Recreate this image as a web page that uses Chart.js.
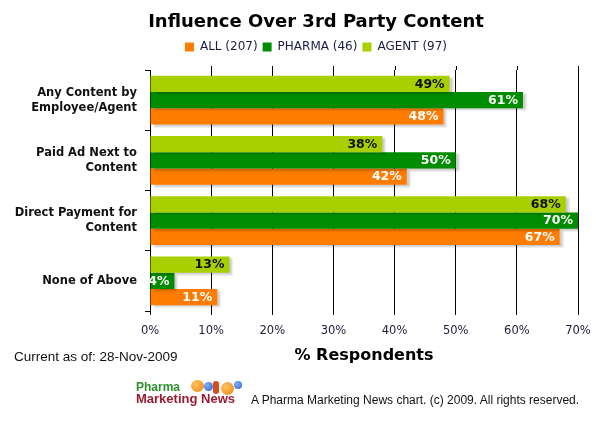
<!DOCTYPE html>
<html>
<head>
<meta charset="utf-8">
<script src="https://cdn.jsdelivr.net/npm/chart.js@4/dist/chart.umd.min.js"></script>
<style>
  html, body { margin: 0; padding: 0; background: #fff; }
  #wrap { position: relative; width: 609px; height: 425px; overflow: hidden; }
  #c { position: absolute; left: 0; top: 0; }
  .txt { position: absolute; font-family: "Liberation Sans", Arial, sans-serif; color: #111; white-space: nowrap; }
  #asof { left: 14px; top: 349px; font-size: 13.5px; }
  #copy { left: 251px; top: 393px; font-size: 12px; }
  #logo { position: absolute; left: 135px; top: 380px; width: 110px; height: 30px; }
  #logo .l1 { position: absolute; left: 1px; top: 1px; font: bold 12px "Liberation Sans", Arial, sans-serif; color: #2f8f2f; line-height: 12px; }
  #logo .l2 { position: absolute; left: 1px; top: 12px; font: bold 13px "Liberation Sans", Arial, sans-serif; color: #9b1b30; line-height: 13px; }
  .ball { position: absolute; border-radius: 50%; }
</style>
</head>
<body>
<div id="wrap">
  <canvas id="c" width="609" height="425"></canvas>
  <div class="txt" id="asof">Current as of: 28-Nov-2009</div>
  <div id="logo">
    <div class="ball" style="left:56px;top:0px;width:13px;height:12px;background:radial-gradient(circle at 35% 35%,#ffc060,#e88a10);"></div>
    <div class="ball" style="left:69px;top:2px;width:9px;height:9px;background:radial-gradient(circle at 35% 35%,#7fb0ff,#2a5fc8);"></div>
    <div class="ball" style="left:78px;top:1px;width:6px;height:13px;background:#d84a20;border-radius:3px;"></div>
    <div class="ball" style="left:86px;top:2px;width:13px;height:13px;background:radial-gradient(circle at 35% 35%,#ffc060,#e88a10);"></div>
    <div class="ball" style="left:99px;top:1px;width:8px;height:8px;background:radial-gradient(circle at 35% 35%,#7fb0ff,#2a5fc8);"></div>
    <div class="l1">Pharma</div>
    <div class="l2">Marketing News</div>
  </div>
  <div class="txt" id="copy">A Pharma Marketing News chart. (c) 2009. All rights reserved.</div>
</div>
<script>
// ---- data ----
const categories = [
  ['Any Content by', 'Employee/Agent'],
  ['Paid Ad Next to', 'Content'],
  ['Direct Payment for', 'Content'],
  'None of Above'
];
const agentValues  = [49, 38, 68, 13];
const pharmaValues = [61, 50, 70, 4];
const allValues    = [48, 42, 67, 11];
const seriesLabels = ['AGENT (97)', 'PHARMA (46)', 'ALL (207)'];
const xTickValues  = [0, 10, 20, 30, 40, 50, 60, 70];

const colAgent = '#a8d000', colPharma = '#008c00', colAll = '#ff7c00';

const barDeco = {
  id: 'barDeco',
  afterLayout(chart) {
    // let the category labels extend to the left edge without being clipped
    chart.scales.y.left = 0;
  },
  beforeDatasetsDraw(chart) {
    const ctx = chart.ctx, xs = chart.scales.x, top = chart.chartArea.top;
    ctx.save();
    ctx.strokeStyle = '#000';
    ctx.lineWidth = 1;
    xs.ticks.forEach((t, i) => {
      if (i === 0) return;
      const px = Math.round(xs.getPixelForValue(t.value)) + 0.5;
      ctx.beginPath(); ctx.moveTo(px, top - 4); ctx.lineTo(px, top); ctx.stroke();
    });
    ctx.restore();
    ctx.save();
    ctx.shadowColor = 'rgba(0,0,0,0.2)';
    ctx.shadowOffsetX = 3;
    ctx.shadowOffsetY = 2;
    ctx.shadowBlur = 2;
  },
  afterDatasetsDraw(chart) {
    const ctx = chart.ctx;
    ctx.restore();
    ctx.save();
    ctx.font = 'bold 12.5px "DejaVu Sans", Verdana, sans-serif';
    ctx.textAlign = 'right';
    ctx.textBaseline = 'middle';
    chart.data.datasets.forEach((ds, di) => {
      const meta = chart.getDatasetMeta(di);
      ctx.fillStyle = di === 0 ? '#111' : '#fff';
      meta.data.forEach((el, i) => {
        ctx.fillText(ds.data[i] + '%', el.x - 5, el.y + 0.5);
      });
    });
    ctx.restore();
  }
};

new Chart(document.getElementById('c'), {
  type: 'bar',
  data: {
    labels: categories,
    datasets: [
      { label: seriesLabels[0], data: agentValues,  backgroundColor: colAgent,  borderWidth: 0 },
      { label: seriesLabels[1], data: pharmaValues, backgroundColor: colPharma, borderWidth: 0 },
      { label: seriesLabels[2], data: allValues,    backgroundColor: colAll,    borderWidth: 0 }
    ]
  },
  options: {
    indexAxis: 'y',
    responsive: false,
    animation: false,
    devicePixelRatio: 1,
    categoryPercentage: 0.81,
    barPercentage: 1.0,
    layout: { padding: { left: 54, right: 31, top: 0, bottom: 54 } },
    plugins: {
      tooltip: { enabled: false },
      title: {
        display: true,
        text: 'Influence Over 3rd Party Content',
        color: '#000',
        font: { family: '"DejaVu Sans", Verdana, sans-serif', size: 18, weight: 'bold', lineHeight: 1.2 },
        padding: { top: 12, bottom: 2.4 }
      },
      subtitle: {
        display: true,
        text: ' ',
        weight: 500,
        font: { size: 7, lineHeight: 1 },
        padding: 0
      },
      legend: {
        display: true,
        position: 'top',
        reverse: true,
        labels: {
          boxWidth: 9,
          boxHeight: 9,
          padding: 5,
          color: '#1c1c44',
          font: { family: '"DejaVu Sans", Verdana, sans-serif', size: 12 }
        }
      }
    },
    scales: {
      x: {
        type: 'linear',
        min: 0,
        max: 70,
        afterBuildTicks(scale) { scale.ticks = xTickValues.map(v => ({ value: v })); },
        afterFit(scale) { scale.height = 60; },
        border: { display: false },
        grid: { color: '#000', lineWidth: 1, tickLength: 4, drawTicks: true },
        ticks: {
          padding: 9,
          color: '#1c1c3c',
          font: { family: '"DejaVu Sans", Verdana, sans-serif', size: 11.5 },
          callback: v => v + '%'
        },
        title: {
          display: true,
          text: '% Respondents',
          color: '#000',
          font: { family: '"DejaVu Sans", Verdana, sans-serif', size: 16, weight: 'bold', lineHeight: 1.2 },
          padding: { top: 0, bottom: 5.4 }
        }
      },
      y: {
        afterFit(scale) { scale.width = 96; },
        border: { display: true, color: '#000', width: 1 },
        grid: { display: true, drawOnChartArea: false, drawTicks: true, tickLength: 5, color: '#000', offset: true },
        ticks: {
          padding: 8,
          color: '#111',
          font: { family: '"DejaVu Sans", Verdana, sans-serif', size: 11.5, weight: 'bold', lineHeight: 1.3 }
        }
      }
    }
  },
  plugins: [barDeco]
});
</script>
</body>
</html>
